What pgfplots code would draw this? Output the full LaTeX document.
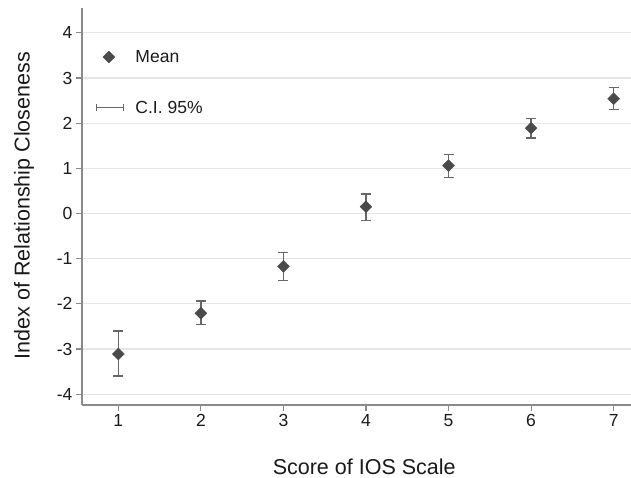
\documentclass[border=0pt]{standalone}
\usepackage{pgfplots}
\pgfplotsset{compat=1.18}
\usepackage{fontspec}
\setmainfont{Liberation Sans}
\definecolor{markgray}{HTML}{4A4A4A}
\definecolor{errgray}{HTML}{666666}
\definecolor{gridgray}{HTML}{E6E6E6}
\definecolor{axisgray}{HTML}{8A8A8A}
\definecolor{textgray}{HTML}{1A1A1A}
\begin{document}
\begin{tikzpicture}
\begin{axis}[
  scale only axis, width=549pt, height=397pt,
  xmin=0.56, xmax=7.21, ymin=-4.24, ymax=4.55,
  axis lines*=left,
  axis line style={axisgray, line width=1.3pt, -},
  xtick={1,2,3,4,5,6,7}, ytick={-4,-3,-2,-1,0,1,2,3,4},
  tick align=outside, major tick length=6pt,
  tick style={axisgray, line width=1.1pt},
  ymajorgrids, grid style={gridgray, line width=1.2pt},
  /pgf/number format/assume math mode=true,
  tick label style={font=\fontsize{17.5}{20}\selectfont, text=textgray},
  xlabel={Score of IOS Scale},
  ylabel={Index of Relationship Closeness},
  xlabel style={font=\fontsize{21.5}{25}\selectfont, text=textgray, at={(axis description cs:0.514,-0.156)}, anchor=center},
  ylabel style={font=\fontsize{21.5}{25}\selectfont, text=textgray, at={(axis description cs:-0.1056,0.5025)}, anchor=center},
  legend style={draw=none, fill=none, inner sep=0pt, at={(axis description cs:0.0255,0.894)}, anchor=north west,
    nodes={inner sep=0pt, font=\fontsize{17.5}{20}\selectfont, text=textgray}, row sep=37pt, column sep=11pt},
  legend cell align=left,
]
\addplot[forget plot, only marks, mark=none,
  error bars/.cd, y dir=both, y explicit,
  error bar style={errgray, line width=1.3pt},
  error mark options={errgray, line width=1.3pt, mark size=5pt, rotate=90}]
  coordinates {
  (1,-3.11) += (0,0.51) -= (0,0.49)
  (2,-2.21) += (0,0.27) -= (0,0.25)
  (3,-1.17) += (0,0.30) -= (0,0.31)
  (4,0.15) += (0,0.28) -= (0,0.305)
  (5,1.06) += (0,0.25) -= (0,0.27)
  (6,1.89) += (0,0.21) -= (0,0.22)
  (7,2.54) += (0,0.25) -= (0,0.23)
  };
\addplot[only marks, mark=square*, mark size=4.2pt,
  mark options={rotate=45, fill=markgray, draw=markgray},
  legend image code/.code={\path (0pt,0pt) (27pt,0pt); \draw[mark=square*, mark size=4.2pt, mark options={rotate=45, fill=markgray, draw=markgray}, draw=none] plot coordinates {(12pt,0pt)};}]
  coordinates {
  (1,-3.11) (2,-2.21) (3,-1.17) (4,0.15) (5,1.06) (6,1.89) (7,2.54)
  };
\addlegendentry{Mean}
\addlegendimage{legend image code/.code={
  \draw[errgray, line width=1.3pt] (0pt,0pt) -- (27pt,0pt);
  \draw[errgray, line width=1.3pt] (0pt,-3.5pt) -- (0pt,3.5pt) (27pt,-3.5pt) -- (27pt,3.5pt);}}
\addlegendentry{C.I. 95\%}
\end{axis}
\pgfresetboundingbox
\path (-82pt,-73pt) rectangle (549pt,405pt);
\end{tikzpicture}
\end{document}
